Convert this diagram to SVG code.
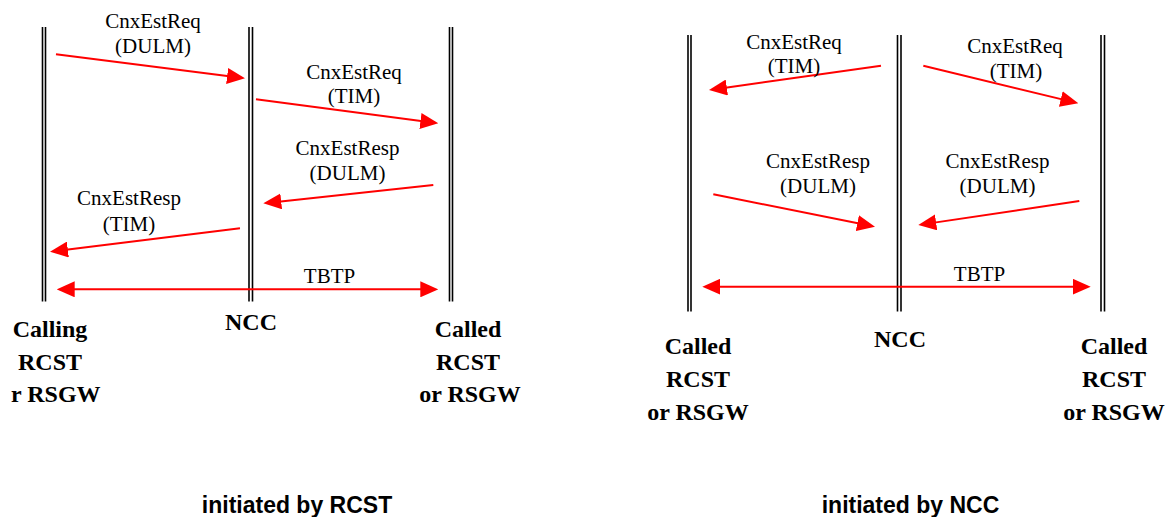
<svg xmlns="http://www.w3.org/2000/svg" width="1166" height="517" viewBox="0 0 1166 517">
  <style>
    .life { stroke: #000; stroke-width: 1.6; fill: none; }
    .msg { stroke: #ff0000; stroke-width: 2; fill: none; marker-end: url(#head); }
    .both { marker-start: url(#head); }
    .lbl { font-family: "Liberation Serif", "Times New Roman", serif; font-size: 21px; fill: #000; text-anchor: middle; }
    .ent { font-family: "Liberation Serif", "Times New Roman", serif; font-size: 24px; font-weight: bold; fill: #000; text-anchor: middle; }
    .cap { font-family: "Liberation Sans", Arial, sans-serif; font-size: 23px; font-weight: bold; fill: #000; text-anchor: middle; }
  </style>
  <defs>
    <marker id="head" viewBox="0 0 18 16" markerWidth="18" markerHeight="16" refX="12" refY="8" orient="auto-start-reverse" markerUnits="userSpaceOnUse">
      <path d="M0,0 L18,8 L0,16 z" fill="#ff0000"/>
    </marker>
  </defs>
  <rect width="1166" height="517" fill="#fff"/>

  <!-- Left: connection set-up initiated by the RCST -->
  <g id="calling-rcst">
    <line class="life" x1="42.5" y1="27" x2="42.5" y2="301.5"/>
    <line class="life" x1="45.5" y1="27" x2="45.5" y2="301.5"/>
    <text class="ent" x="50" y="337">Calling</text>
    <text class="ent" x="50" y="369.5">RCST</text>
    <text class="ent" x="11" y="402" text-anchor="start" style="text-anchor:start">r RSGW</text>
  </g>
  <g id="ncc-left">
    <line class="life" x1="249" y1="27" x2="249" y2="301.5"/>
    <line class="life" x1="252.5" y1="27" x2="252.5" y2="301.5"/>
    <text class="ent" x="251" y="330">NCC</text>
  </g>
  <g id="called-rcst-left">
    <line class="life" x1="449.5" y1="27" x2="449.5" y2="301.5"/>
    <line class="life" x1="452.5" y1="27" x2="452.5" y2="301.5"/>
    <text class="ent" x="468" y="337">Called</text>
    <text class="ent" x="468" y="369.5">RCST</text>
    <text class="ent" x="470" y="402">or RSGW</text>
  </g>

  <!-- Right: connection set-up initiated by the NCC -->
  <g id="called-rcst-a">
    <line class="life" x1="688" y1="35" x2="688" y2="311.5"/>
    <line class="life" x1="691" y1="35" x2="691" y2="311.5"/>
    <text class="ent" x="698" y="354">Called</text>
    <text class="ent" x="698" y="387">RCST</text>
    <text class="ent" x="698" y="419.5">or RSGW</text>
  </g>
  <g id="ncc-right">
    <line class="life" x1="897.5" y1="35" x2="897.5" y2="311.5"/>
    <line class="life" x1="901" y1="35" x2="901" y2="311.5"/>
    <text class="ent" x="900" y="347">NCC</text>
  </g>
  <g id="called-rcst-b">
    <line class="life" x1="1101" y1="35" x2="1101" y2="311.5"/>
    <line class="life" x1="1104.5" y1="35" x2="1104.5" y2="311.5"/>
    <text class="ent" x="1114" y="354">Called</text>
    <text class="ent" x="1114" y="387">RCST</text>
    <text class="ent" x="1114" y="419.5">or RSGW</text>
  </g>

  <!-- Messages -->
  <g id="connectors">
    <line class="msg" x1="56" y1="54.3" x2="239.05" y2="77.54"/>
    <line class="msg" x1="256" y1="99.3" x2="432.35" y2="122.52"/>
    <line class="msg" x1="433.3" y1="185" x2="269.27" y2="202.66"/>
    <line class="msg" x1="240" y1="228.3" x2="55.96" y2="250.97"/>
    <line class="msg both" x1="62.7" y1="289.3" x2="432.3" y2="289.3"/>

    <line class="msg" x1="881" y1="65.7" x2="714.94" y2="89.16"/>
    <line class="msg" x1="923.3" y1="65.7" x2="1072.47" y2="101.89"/>
    <line class="msg" x1="713.3" y1="194.3" x2="869.12" y2="225.52"/>
    <line class="msg" x1="1079.3" y1="201" x2="924.23" y2="224.12"/>
    <line class="msg both" x1="708.3" y1="286.7" x2="1084.7" y2="286.7"/>
  </g>

  <!-- Message labels -->
  <g id="labels">
    <text class="lbl" x="153" y="28">CnxEstReq</text>
    <text class="lbl" x="153" y="53">(DULM)</text>
    <text class="lbl" x="354" y="79">CnxEstReq</text>
    <text class="lbl" x="354" y="102.5">(TIM)</text>
    <text class="lbl" x="347.5" y="155">CnxEstResp</text>
    <text class="lbl" x="347.5" y="180">(DULM)</text>
    <text class="lbl" x="129" y="205">CnxEstResp</text>
    <text class="lbl" x="129" y="231">(TIM)</text>
    <text class="lbl" x="329.5" y="283">TBTP</text>

    <text class="lbl" x="794" y="49">CnxEstReq</text>
    <text class="lbl" x="794" y="73">(TIM)</text>
    <text class="lbl" x="1015" y="53">CnxEstReq</text>
    <text class="lbl" x="1016" y="78">(TIM)</text>
    <text class="lbl" x="818" y="168">CnxEstResp</text>
    <text class="lbl" x="818" y="193">(DULM)</text>
    <text class="lbl" x="997.5" y="168">CnxEstResp</text>
    <text class="lbl" x="997.5" y="193">(DULM)</text>
    <text class="lbl" x="979.5" y="281">TBTP</text>
  </g>

  <!-- Captions -->
  <text class="cap" x="297" y="513">initiated by RCST</text>
  <text class="cap" x="910.5" y="513">initiated by NCC</text>
</svg>
